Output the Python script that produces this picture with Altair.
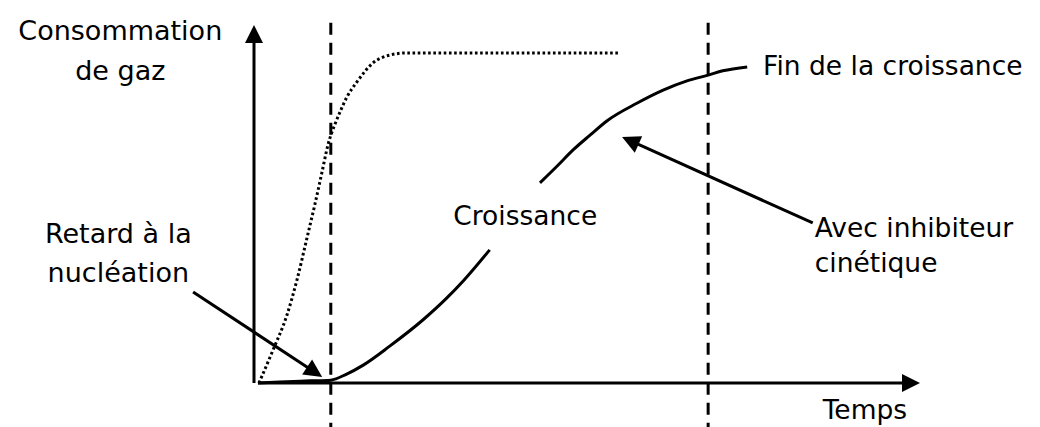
import math
import altair as alt
import pandas as pd

# Abstract units: time 0..100 along the x axis, gas consumption 0..100 along the y axis
# Curve "Avec inhibiteur cinétique" (solid), split where the label "Croissance" sits
t_inhib_a = [0, 3.3, 7.9, 11.0, 13.4, 15.9, 19.9, 24.9, 28.5, 31.0, 35.0]
c_inhib_a = [0, 0.3, 0.6, 0.8, 2.5, 5.0, 10.3, 17.6, 23.7, 28.5, 37.2]
t_inhib_b = [42.6, 45.2, 47.6, 50.2, 52.7, 57.3, 61.2, 64.8, 68.0, 70.2, 73.9]
c_inhib_b = [55.9, 60.6, 65.1, 69.3, 73.2, 78.2, 81.8, 84.4, 86.0, 87.2, 88.3]
# Curve without inhibitor (dotted)
t_ref = [0.15, 2.27, 4.38, 5.89, 7.40, 8.61, 9.67, 10.57, 11.63, 12.39, 13.44, 14.95, 17.37, 19.94, 22.5, 54.7]
c_ref = [0, 9.2, 19.0, 28.8, 40.5, 50.0, 58.9, 66.5, 72.3, 75.7, 79.9, 84.1, 89.4, 91.6, 92.2, 92.2]
# Vertical dashed markers: end of nucleation delay, end of growth
t_markers = [11.0, 68.0]
marker_top = 100.6

# Annotation arrows (tail -> tip)
arrow_tail_t = [-9.8, 83.8]
arrow_tail_c = [25.4, 44.7]
arrow_tip_t = [9.7, 55.0]
arrow_tip_c = [1.7, 68.7]

# Labels
labels_center = ["Consommation", "de gaz", "Retard à la", "nucléation"]
labels_center_t = [-20.8, -20.8, -21.1, -21.1]
labels_center_c = [95.8, 84.6, 39.1, 28.2]
labels_left = ["Fin de la croissance", "Croissance", "Avec inhibiteur", "cinétique", "Temps"]
labels_left_t = [76.3, 29.5, 84.1, 84.1, 85.3]
labels_left_c = [86.0, 44.1, 40.8, 31.0, -10.0]

W, H = 1024, 419
x_dom = [-37.76, 116.92]
y_dom = [-12.29, 104.75]
px_t = W / (x_dom[1] - x_dom[0])
px_c = H / (y_dom[1] - y_dom[0])

xs = alt.Scale(domain=x_dom, nice=False, zero=False)
ys = alt.Scale(domain=y_dom, nice=False, zero=False)
X = lambda f: alt.X(f, type="quantitative", scale=xs, axis=None)
Y = lambda f: alt.Y(f, type="quantitative", scale=ys, axis=None)

FONT = "DejaVu Sans"
INK = "#000000"
LW = 3

def curve(ts, cs):
    return pd.DataFrame({"t": ts, "c": cs})

solid_a = alt.Chart(curve(t_inhib_a, c_inhib_a)).mark_line(
    color=INK, strokeWidth=LW, interpolate="monotone"
).encode(x=X("t"), y=Y("c"))
solid_b = alt.Chart(curve(t_inhib_b, c_inhib_b)).mark_line(
    color=INK, strokeWidth=LW, interpolate="monotone"
).encode(x=X("t"), y=Y("c"))
dotted = alt.Chart(curve(t_ref, c_ref)).mark_line(
    color=INK, strokeWidth=LW, strokeDash=[2.6, 2.6], interpolate="monotone"
).encode(x=X("t"), y=Y("c"))

markers = alt.Chart(pd.DataFrame({"t": t_markers, "top": [marker_top] * 2, "bot": [y_dom[0]] * 2})).mark_rule(
    color=INK, strokeWidth=LW, strokeDash=[12, 8]
).encode(x=X("t"), y=Y("top"), y2="bot")

# Axes drawn as arrows
axes_df = pd.DataFrame({
    "t": [-0.6, 0.0], "c": [0.0, 0.0],
    "t2": [-0.6, 98.0], "c2": [97.0, 0.0],
})
axes = alt.Chart(axes_df).mark_rule(color=INK, strokeWidth=LW).encode(
    x=X("t"), y=Y("c"), x2="t2", y2="c2"
)

# Annotation arrow shafts (end a little before the tip so the head stays sharp)
k = 0.92
shaft_df = pd.DataFrame({
    "t": arrow_tail_t, "c": arrow_tail_c,
    "t2": [a + k * (b - a) for a, b in zip(arrow_tail_t, arrow_tip_t)],
    "c2": [a + k * (b - a) for a, b in zip(arrow_tail_c, arrow_tip_c)],
})
shafts = alt.Chart(shaft_df).mark_rule(color=INK, strokeWidth=LW).encode(
    x=X("t"), y=Y("c"), x2="t2", y2="c2"
)

def heading(dt, dc):
    return math.degrees(math.atan2(dt * px_t, dc * px_c)) % 360

head_t = [-0.6, 100.0] + arrow_tip_t
head_c = [100.0, 0.0] + arrow_tip_c
head_ang = [0.0, 90.0] + [
    heading(b - a, d - c) for a, b, c, d in zip(arrow_tail_t, arrow_tip_t, arrow_tail_c, arrow_tip_c)
]
heads = alt.Chart(pd.DataFrame({"t": head_t, "c": head_c, "ang": head_ang})).mark_point(
    shape="M0,0L-0.5,1L0.5,1Z", filled=True, color=INK, opacity=1, size=1296, strokeWidth=0
).encode(x=X("t"), y=Y("c"), angle=alt.Angle("ang:Q", scale=None))

txt_c = alt.Chart(pd.DataFrame({"t": labels_center_t, "c": labels_center_c, "s": labels_center})).mark_text(
    font=FONT, fontSize=27, color=INK, align="center", baseline="alphabetic"
).encode(x=X("t"), y=Y("c"), text="s:N")
txt_l = alt.Chart(pd.DataFrame({"t": labels_left_t, "c": labels_left_c, "s": labels_left})).mark_text(
    font=FONT, fontSize=26.5, color=INK, align="left", baseline="alphabetic"
).encode(x=X("t"), y=Y("c"), text="s:N")

chart = alt.layer(markers, dotted, solid_a, solid_b, axes, shafts, heads, txt_c, txt_l).properties(
    width=W, height=H, padding=0, autosize=alt.AutoSizeParams(type="none"), background="white"
).configure_view(stroke=None)

chart.save("out.html", embed_options={"renderer": "svg", "actions": False})
